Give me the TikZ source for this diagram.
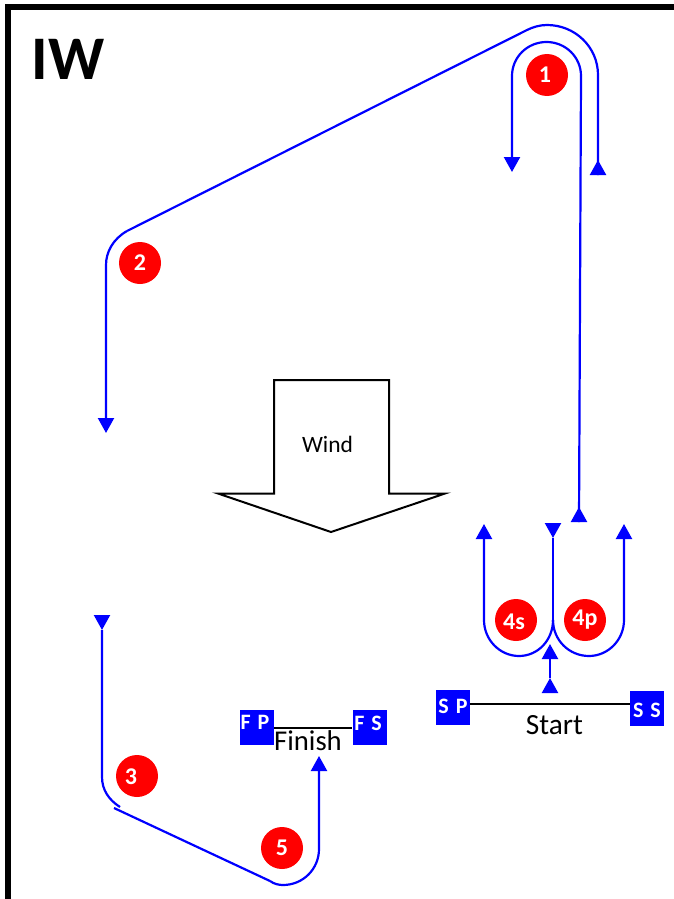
\documentclass[tikz,border=0pt]{standalone}
\usepackage{fontspec}
\setmainfont{Carlito}
\usetikzlibrary{arrows.meta}
\definecolor{routeblue}{RGB}{0,0,255}
\definecolor{badge}{RGB}{255,0,0}
\tikzset{
  route/.style={draw=routeblue,line width=1.65pt},
  tipped/.style={route,-{Triangle[length=11.25pt,width=12pt,fill=routeblue]}},
  badgenode/.style={circle,fill=badge,minimum size=31.5pt,inner sep=0pt,text=white,font=\fontsize{18}{20}\selectfont\bfseries},
  mark box/.style={rectangle,fill=routeblue,minimum width=25.5pt,minimum height=26.25pt,inner sep=0pt},
  mark text/.style={inner sep=0pt,text=white,font=\fontsize{16.5}{18}\selectfont\bfseries},
  gate/.style={draw=black,line width=1.5pt},
  frameline/.style={draw=black,line width=4.5pt},
  caption/.style={inner sep=0pt,text=black},
}
\begin{document}
\begin{tikzpicture}[x=0.75pt,y=-0.75pt]
\useasboundingbox (0,0) rectangle (674,899);
% frame
\coordinate (fbl) at (8,899);
\coordinate (ftl) at (8,7);
\coordinate (ftr) at (674,7);
\draw[frameline] (fbl) -- (ftl) -- (ftr);
\node[caption,font=\fontsize{46.5}{50}\selectfont\bfseries] (title) at (68,59) {IW};
% wind arrow
\draw[draw=black,line width=1.5pt,fill=white] (274,380) -- (389,380) -- (389,493.5) -- (445,493.5) -- (331,532) -- (218,493.5) -- (274,493.5) -- cycle;
\node[caption,font=\fontsize{17.6}{20}\selectfont] (wind) at (327.5,444) {Wind};
% gates
\node[mark box] (sp) at (453,707.5) {};
\node[mark text] (spt) at (453,706) {S\hspace{1.5pt} P};
\node[mark box] (ss) at (647,708.5) {};
\node[mark text] (sst) at (647,710) {S\hspace{1.5pt} S};
\draw[gate] (sp.east |- 0,704) coordinate (spe) -- (ss.west |- 0,704) coordinate (ssw);
\node[caption,font=\fontsize{22}{24}\selectfont] (start) at (554.5,725) {Start};
\node[mark box] (fp) at (257,727.5) {};
\node[mark text] (fpt) at (255,722) {F\hspace{1.5pt} P};
\node[mark box] (fs) at (369.5,727.5) {};
\node[mark text] (fst) at (368,723) {F\hspace{1.5pt} S};
\draw[gate] (fp.east |- 0,728) coordinate (fpe) -- (fs.west |- 0,728) coordinate (fsw);
\node[caption,font=\fontsize{21.5}{24}\selectfont] (finish) at (308,741) {Finish};
% upper route
\coordinate (inA) at (579,522);
\coordinate (inAt) at (579,507);
\coordinate (inB) at (581,76);
\coordinate (inTop) at (546.5,42);
\coordinate (inC) at (512,76);
\coordinate (inD) at (512,172);
\draw[tipped] (inB) .. controls (581,57) and (565.5,42) .. (inTop) .. controls (527.5,42) and (512,57) .. (inC) -- (inD);
\draw[route] (inB) -- (inA);
\draw[tipped] (inA) -- (inAt);
\coordinate (ouA) at (598,175);
\coordinate (ouAt) at (598,160);
\coordinate (ouB) at (598,75);
\coordinate (ouTop) at (547,25);
\coordinate (ouC) at (527,30);
\coordinate (ouD) at (127,231);
\coordinate (ouE) at (106,265);
\coordinate (ouF) at (106,433);
\draw[route] (ouA) -- (ouB) .. controls (598,47) and (575,25) .. (ouTop) .. controls (540,25) and (533,27) .. (ouC) -- (ouD);
\draw[tipped] (ouD) .. controls (113,239) and (106,252) .. (ouE) -- (ouF);
\draw[tipped] (ouA) -- (ouAt);
% lower left route
\coordinate (loA) at (102,616);
\coordinate (loAt) at (102,630);
\coordinate (loB) at (102,777);
\coordinate (loC) at (120,807);
\coordinate (loD) at (114,808);
\coordinate (loE) at (270,881);
\coordinate (loBot) at (283,885);
\coordinate (loF) at (319,849);
\coordinate (loG) at (319,756);
\draw[tipped] (loA) -- (loAt);
\draw[route] (loAt) -- (loB) .. controls (102,790) and (109,800) .. (loC);
\draw[route] (loD) -- (loE);
\draw[tipped] (loE) .. controls (274,884) and (279,885) .. (loBot) .. controls (303,885) and (319,869) .. (loF) -- (loG);
% turns at the start
\coordinate (sA) at (550,692);
\coordinate (sAt) at (550,678);
\coordinate (sB) at (550,658);
\coordinate (sBt) at (550,644);
\draw[tipped] (sA) -- (sAt);
\draw[route] (sAt) -- (sB);
\draw[tipped] (sB) -- (sBt);
\coordinate (mid) at (553,620);
\coordinate (midtop) at (553,524);
\coordinate (midtip) at (553,538);
\coordinate (lbot) at (519,656);
\coordinate (ltop) at (484,620);
\coordinate (ltip) at (484,524);
\coordinate (rbot) at (589,656);
\coordinate (rtop) at (624,620);
\coordinate (rtip) at (624,524);
\draw[tipped] (mid) .. controls (553,640) and (538,656) .. (lbot) .. controls (500,656) and (484,640) .. (ltop) -- (ltip);
\draw[tipped] (mid) .. controls (553,640) and (569,656) .. (rbot) .. controls (608,656) and (624,640) .. (rtop) -- (rtip);
\draw[route] (mid) -- (midtip);
\draw[tipped] (midtop) -- (midtip);
% badges
\node[badgenode] (b1) at (547,75) {};
\node[caption,text=white,font=\fontsize{18}{20}\selectfont\bfseries] at (545,75) {1};
\node[badgenode] (b2) at (140,263) {2};
\node[badgenode] (b3) at (137,776) {};
\node[caption,text=white,font=\fontsize{18}{20}\selectfont\bfseries] at (131,777) {3};
\node[badgenode] (b5) at (282,848) {5};
\node[badgenode] (b4s) at (516,620) {};
\node[caption,text=white,font=\fontsize{18}{20}\selectfont\bfseries] at (514,622) {4s};
\node[badgenode] (b4p) at (585,620) {4p};
\end{tikzpicture}
\end{document}
